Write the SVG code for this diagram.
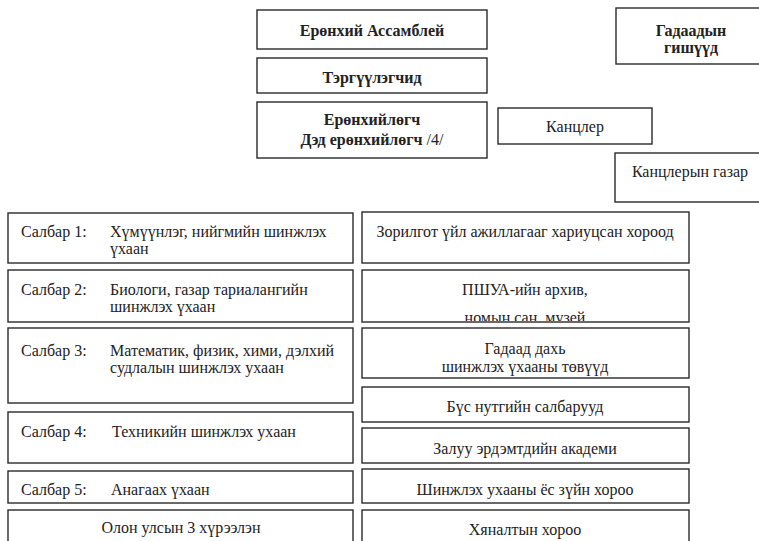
<svg xmlns="http://www.w3.org/2000/svg" width="759" height="541" viewBox="0 0 759 541" font-family="'Liberation Serif', 'DejaVu Serif', serif" font-size="16">
<style>
rect.b{fill:#fff;stroke:#2a2a2a;stroke-width:1.4}
text{fill:#222}
.c{text-anchor:middle}
.bold{font-weight:bold}
.n{font-weight:normal}
</style>
<defs>
<clipPath id="clipP"><rect x="362" y="270" width="327" height="51"/></clipPath>
</defs>
<rect width="759" height="541" fill="#fff"/>
<g id="connectors"/>
<g id="assembly"><rect class="b" x="257" y="10" width="230" height="39"/><text class="c bold" x="372" y="36">Ерөнхий Ассамблей</text></g>
<g id="presidium"><rect class="b" x="257" y="58" width="230" height="35"/><text class="c bold" x="372" y="83">Тэргүүлэгчид</text></g>
<g id="president"><rect class="b" x="257" y="102" width="230" height="56"/><text class="c bold" x="372" y="125">Ерөнхийлөгч</text><text class="c bold" x="372" y="145">Дэд ерөнхийлөгч <tspan class="n">/4/</tspan></text></g>
<g id="foreign-members"><rect class="b" x="616" y="8" width="152" height="56"/><text class="c bold" x="691" y="36">Гадаадын</text><text class="c bold" x="691" y="53">гишүүд</text></g>
<g id="chancellor"><rect class="b" x="498" y="108" width="154" height="36"/><text class="c" x="575" y="132">Канцлер</text></g>
<g id="chancellery"><rect class="b" x="615" y="153" width="152" height="49"/><text class="c" x="690" y="177">Канцлерын газар</text></g>

<g id="section1"><rect class="b" x="8" y="213" width="345" height="50"/><text x="21" y="237">Салбар 1:</text><text x="110" y="237">Хүмүүнлэг, нийгмийн шинжлэх</text><text x="110" y="254">үхаан</text></g>
<g id="section2"><rect class="b" x="8" y="270" width="345" height="52"/><text x="21" y="295">Салбар 2:</text><text x="110" y="295">Биологи, газар тариалангийн</text><text x="110" y="312">шинжлэх үхаан</text></g>
<g id="section3"><rect class="b" x="8" y="328" width="345" height="75"/><text x="21" y="356">Салбар 3:</text><text x="110" y="356">Математик, физик, хими, дэлхий</text><text x="110" y="373">судлалын шинжлэх ухаан</text></g>
<g id="section4"><rect class="b" x="8" y="412" width="345" height="51"/><text x="21" y="437">Салбар 4:</text><text x="112" y="437">Техникийн шинжлэх ухаан</text></g>
<g id="section5"><rect class="b" x="8" y="471" width="345" height="32"/><text x="21" y="495">Салбар 5:</text><text x="111" y="495">Анагаах үхаан</text></g>
<g id="institutes"><rect class="b" x="8" y="510" width="345" height="40"/><text class="c" x="181" y="533">Олон улсын 3 хүрээлэн</text></g>

<g id="committee"><rect class="b" x="362" y="212" width="327" height="51"/><text class="c" x="525" y="237">Зорилгот үйл ажиллагааг хариуцсан хороод</text></g>
<g id="archive"><rect class="b" x="362" y="270" width="327" height="52"/><text class="c" x="525" y="295">ПШУА-ийн архив,</text><text class="c" x="525" y="323" clip-path="url(#clipP)">номын сан, музей</text></g>
<g id="abroad"><rect class="b" x="362" y="328" width="327" height="50"/><text class="c" x="525" y="354">Гадаад дахь</text><text class="c" x="525" y="372">шинжлэх үхааны төвүүд</text></g>
<g id="regional"><rect class="b" x="362" y="387" width="327" height="35"/><text class="c" x="525" y="412">Бүс нутгийн салбарууд</text></g>
<g id="young"><rect class="b" x="362" y="428" width="327" height="35"/><text class="c" x="525" y="454">Залуу эрдэмтдийн академи</text></g>
<g id="ethics"><rect class="b" x="362" y="469" width="327" height="34"/><text class="c" x="525" y="495">Шинжлэх ухааны ёс зүйн хороо</text></g>
<g id="control"><rect class="b" x="362" y="510" width="327" height="40"/><text class="c" x="525" y="535">Хяналтын хороо</text></g>
</svg>
